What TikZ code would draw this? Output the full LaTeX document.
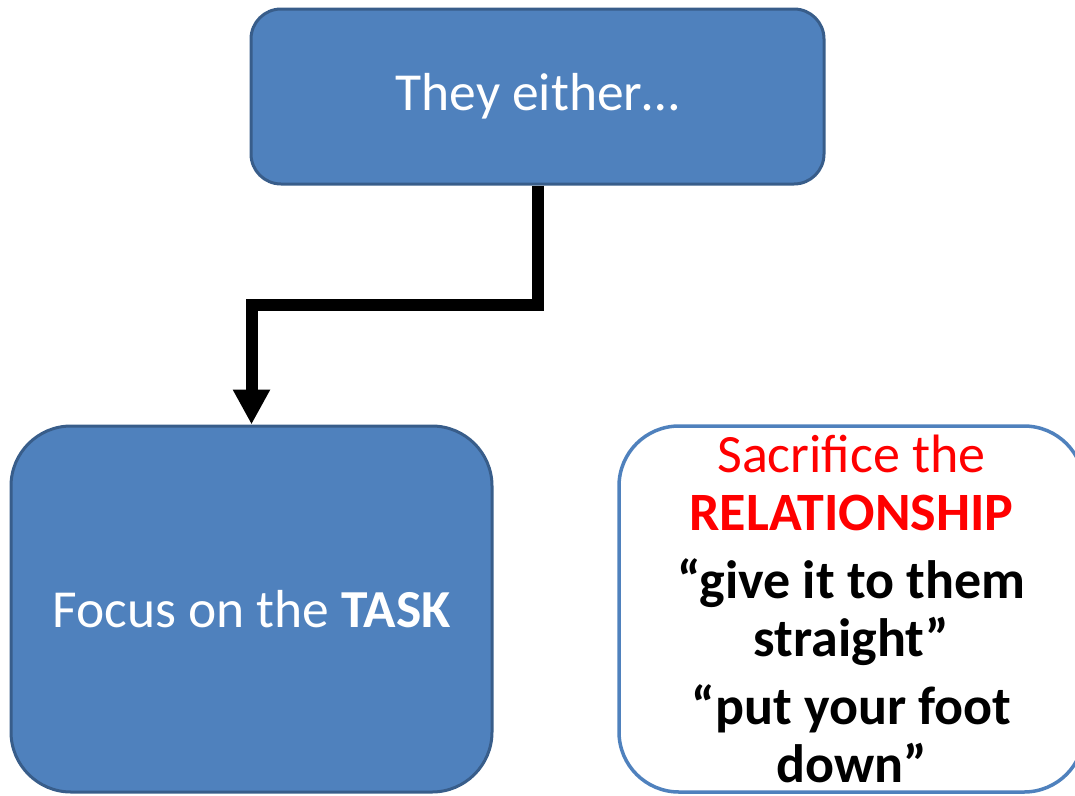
\documentclass[tikz,border=0pt]{standalone}
\usepackage{fontspec}
\setmainfont{Carlito}
\usetikzlibrary{arrows.meta}
\definecolor{myblue}{HTML}{4F81BD}
\definecolor{mydarkblue}{HTML}{385D8A}
\colorlet{myred}{red}

\begin{document}
\begin{tikzpicture}[x=1pt,y=-1pt,
  BoxStyle/.style ={draw=mydarkblue, line width=3pt, fill=myblue, text=white,
    font=\fontsize{53.5}{58}\selectfont, inner sep=0},
  NoteStyle/.style ={draw=myblue, line width=3.5pt, fill=white, align=center,
    font=\fontsize{54}{57.5}\selectfont, inner sep=0},
  EdgeStyle/.style ={line width=12pt, line join=miter,
    -{Triangle[width=35pt,length=35pt]}}]
\useasboundingbox (0,0) rectangle (1075,795);
\node[BoxStyle, rounded corners=30pt, minimum width=573pt, minimum height=175pt] (either) at (537.5,96.5) {They either…};
\node[BoxStyle, rounded corners=60pt, minimum width=481pt, minimum height=366pt] (task) at (251.5,609) {Focus on the \textbf{TASK}};
\node[NoteStyle, rounded corners=60pt, minimum width=465pt, minimum height=366pt] (relation) at (851.5,609) {%
  \textcolor{myred}{Sacrifice the}\\
  \textcolor{myred}{\textbf{RELATIONSHIP}}\\[11pt]
  \textbf{“give it to them}\\
  \textbf{straight”}\\[11pt]
  \textbf{“put your foot}\\
  \textbf{down”}};
\draw[EdgeStyle] (either.south) -- ++(0,119) -| (task.north);
\end{tikzpicture}
\end{document}
